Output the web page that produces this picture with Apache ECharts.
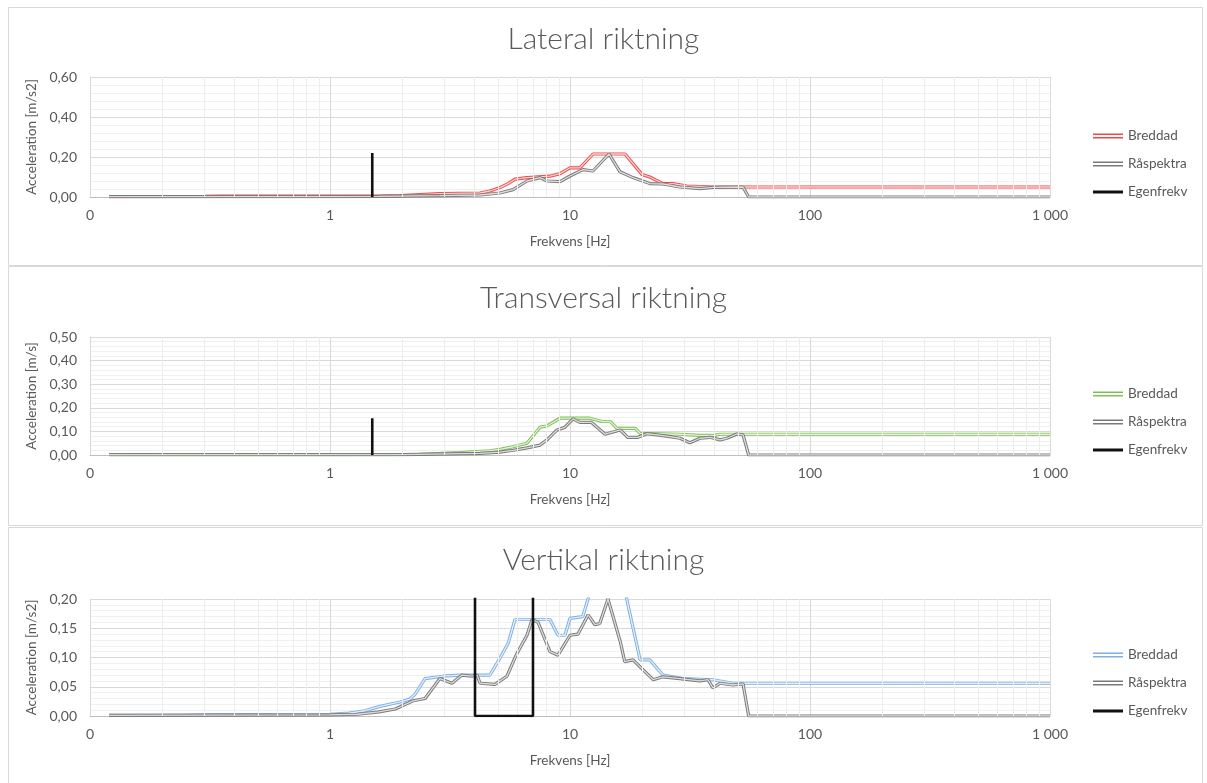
<!DOCTYPE html>
<html><head><meta charset="utf-8">
<script src="https://cdn.jsdelivr.net/npm/echarts@6/dist/echarts.min.js"></script>
<style>html,body{margin:0;padding:0;background:#fff}#c{width:1207px;height:783px}</style>
</head><body><div id="c"></div><script>
// ---------- DATA ----------
const xTickLabels = {0.1: '0', 1: '1', 10: '10', 100: '100', 1000: '1 000'};
const seriesNames = ['Breddad', 'Råspektra', 'Egenfrekv'];

// Lateral riktning
const latBreddadF = [0.12, 0.3, 0.35, 1.0, 1.6, 1.96, 2.87, 4.22, 4.64, 5.11, 5.52, 5.9, 6.62, 8.25, 9.09, 10.0, 11.0, 12.47, 16.94, 19.95, 21.5, 24.4, 26.8, 30.7, 39.4, 55, 1000];
const latBreddadA = [0.002, 0.003, 0.004, 0.004, 0.005, 0.007, 0.017, 0.02, 0.03, 0.047, 0.067, 0.089, 0.097, 0.104, 0.117, 0.146, 0.146, 0.215, 0.215, 0.113, 0.10, 0.067, 0.067, 0.055, 0.05, 0.05, 0.05];
const latRaF = [0.12, 1.0, 1.6, 2.87, 4.22, 5.11, 5.79, 6.62, 7.5, 8.02, 9.09, 10.0, 11.33, 12.47, 14.54, 16.16, 18.3, 21.5, 24.4, 28.7, 34.8, 39.4, 52.6, 53.5, 55.5, 1000];
const latRaA = [0.002, 0.002, 0.003, 0.007, 0.01, 0.02, 0.037, 0.08, 0.097, 0.08, 0.077, 0.105, 0.137, 0.13, 0.215, 0.126, 0.097, 0.067, 0.065, 0.05, 0.042, 0.048, 0.05, 0.05, 0, 0];
const latEgenF = [1.5, 1.5];
const latEgenA = [0, 0.22];

// Transversal riktning
const traBreddadF = [0.12, 1.0, 2.37, 3.48, 4.64, 5.11, 5.79, 6.62, 7.5, 8.02, 9.09, 12.1, 13.6, 14.7, 15.7, 18.7, 19.6, 28.7, 34.8, 40.0, 42.2, 1000];
const traBreddadA = [0.002, 0.002, 0.003, 0.01, 0.018, 0.024, 0.035, 0.05, 0.118, 0.123, 0.156, 0.156, 0.142, 0.142, 0.113, 0.113, 0.092, 0.088, 0.083, 0.083, 0.088, 0.088];
const traRaF = [0.12, 2.0, 4.22, 5.11, 5.79, 6.62, 7.5, 8.02, 8.83, 9.5, 10.3, 11.0, 12.3, 14.0, 16.2, 17.4, 19.2, 20.9, 23.0, 26.1, 28.7, 31.6, 34.8, 38.3, 42.2, 45.1, 49.6, 52.6, 53.5, 55.5, 1000];
const traRaA = [0.001, 0.002, 0.007, 0.012, 0.02, 0.03, 0.042, 0.064, 0.106, 0.117, 0.153, 0.138, 0.138, 0.088, 0.106, 0.075, 0.075, 0.09, 0.085, 0.078, 0.071, 0.052, 0.071, 0.075, 0.064, 0.071, 0.089, 0.085, 0.085, 0, 0];
const traEgenF = [1.5, 1.5];
const traEgenA = [0, 0.156];

// Vertikal riktning
const verBreddadF = [0.12, 0.25, 0.3, 1.0, 1.2, 1.4, 1.6, 1.96, 2.15, 2.26, 2.49, 2.96, 3.48, 4.64, 5.11, 5.52, 5.9, 8.25, 8.91, 9.53, 10.0, 11.3, 12.3, 16.8, 19.6, 21.5, 24.4, 29.6, 39.4, 47.7, 1000];
const verBreddadA = [0.001, 0.001, 0.002, 0.003, 0.005, 0.009, 0.016, 0.024, 0.029, 0.037, 0.064, 0.068, 0.07, 0.07, 0.099, 0.124, 0.165, 0.165, 0.138, 0.138, 0.167, 0.17, 0.22, 0.22, 0.096, 0.096, 0.07, 0.064, 0.062, 0.056, 0.056];
const verRaF = [0.12, 1.0, 1.3, 1.6, 1.87, 2.22, 2.49, 2.87, 3.22, 3.55, 3.91, 4.1, 4.22, 4.87, 5.11, 5.46, 6.01, 6.62, 6.95, 7.36, 8.25, 8.91, 10.0, 10.8, 11.9, 12.7, 13.3, 14.4, 16.2, 16.9, 18.3, 22.2, 24.4, 28.7, 34.8, 37.6, 39.4, 42.2, 47.7, 52.6, 53.5, 55.5, 1000];
const verRaA = [0.001, 0.002, 0.003, 0.007, 0.012, 0.026, 0.03, 0.064, 0.056, 0.07, 0.068, 0.07, 0.056, 0.054, 0.06, 0.068, 0.107, 0.138, 0.165, 0.16, 0.11, 0.104, 0.138, 0.14, 0.173, 0.156, 0.158, 0.20, 0.127, 0.093, 0.096, 0.062, 0.067, 0.064, 0.060, 0.062, 0.048, 0.056, 0.053, 0.055, 0.055, 0, 0];
const verEgenF = [4.02, 4.02, 7.01, 7.01];
const verEgenA = [0.3, 0, 0, 0.3];

// ---------- CHART ----------
const FONT = 'Lato, "Open Sans", "Noto Sans", sans-serif';
const TXT = '#595959';
const zip = (f, a) => f.map((v, i) => [v, a[i]]);

const panels = [
  {title: 'Lateral riktning', yName: 'Acceleration [m/s2]', max: 0.6, interval: 0.2, minorSplit: 5,
   gridTop: 77, gridH: 120, titleTop: 24, legendTop: 128, box: [7, 258],
   col: '#f04848', inner: 'rgba(255,225,225,0.9)',
   b: zip(latBreddadF, latBreddadA), r: zip(latRaF, latRaA), e: zip(latEgenF, latEgenA)},
  {title: 'Transversal riktning', yName: 'Acceleration [m/s]', max: 0.5, interval: 0.1, minorSplit: 5,
   gridTop: 337, gridH: 118, titleTop: 283, legendTop: 386, box: [266, 259],
   col: '#7fbd5a', inner: 'rgba(235,250,225,0.9)',
   b: zip(traBreddadF, traBreddadA), r: zip(traRaF, traRaA), e: zip(traEgenF, traEgenA)},
  {title: 'Vertikal riktning', yName: 'Acceleration [m/s2]', max: 0.2, interval: 0.05, minorSplit: 5,
   gridTop: 599, gridH: 117, titleTop: 545, legendTop: 647, box: [527, 262],
   col: '#7fb0e2', inner: 'rgba(235,244,255,0.9)',
   b: zip(verBreddadF, verBreddadA), r: zip(verRaF, verRaA), e: zip(verEgenF, verEgenA)}
];

const minorX = [];
[0.1, 1, 10, 100].forEach(d => { for (let k = 2; k <= 9; k++) minorX.push(+(d * k).toPrecision(3)); });

const grid = [], xAxis = [], yAxis = [], series = [], title = [], legend = [], graphic = [];
const GRAY = '#7a7a7a';
const dblIcon = 'path://M0,0H30V1.6H0Z M0,3.4H30V5H0Z';
const solidIcon = 'path://M0,0H0.01V5H0Z M0,1H30V4H0Z';

panels.forEach((p, i) => {
  graphic.push({type: 'rect', silent: true, z: -10,
    shape: {x: 8.5, y: p.box[0] + 0.5, width: 1194, height: p.box[1]},
    style: {fill: '#fff', stroke: '#d9d9d9', lineWidth: 1}});
  grid.push({left: 90, width: 960, top: p.gridTop, height: p.gridH, containLabel: false});
  title.push({text: p.title, left: 'center', top: p.titleTop, padding: 0,
    textStyle: {fontFamily: FONT, fontSize: 30, fontWeight: 300, color: TXT}});
  xAxis.push({type: 'log', logBase: 10, min: 0.1, max: 1000, gridIndex: i,
    name: 'Frekvens [Hz]', nameLocation: 'middle', nameGap: 38,
    nameTextStyle: {fontFamily: FONT, fontSize: 13.5, color: TXT},
    axisLine: {show: true, lineStyle: {color: '#bfbfbf'}},
    axisTick: {show: false},
    axisLabel: {fontFamily: FONT, fontSize: 14, color: TXT, margin: 11,
      formatter: v => xTickLabels[+v.toPrecision(3)] ?? ''},
    splitLine: {show: true, lineStyle: {color: '#d9d9d9'}}});
  yAxis.push({type: 'value', min: 0, max: p.max, interval: p.interval, gridIndex: i,
    name: p.yName, nameLocation: 'middle', nameGap: 51, nameRotate: 90,
    nameTextStyle: {fontFamily: FONT, fontSize: 13.5, color: TXT},
    axisLine: {show: true, lineStyle: {color: '#d9d9d9'}},
    axisTick: {show: false},
    axisLabel: {fontFamily: FONT, fontSize: 14, color: TXT, margin: 13,
      formatter: v => v.toFixed(2).replace('.', ',')},
    splitLine: {show: true, lineStyle: {color: '#d9d9d9'}},
    minorTick: {show: false, splitNumber: p.minorSplit},
    minorSplitLine: {show: true, lineStyle: {color: '#f0f0f0'}}});
  // minor vertical gridlines (2..9 of every decade)
  series.push({type: 'line', name: '_grid' + i, xAxisIndex: i, yAxisIndex: i, data: [], z: 1,
    silent: true, animation: false,
    markLine: {silent: true, symbol: ['none', 'none'], label: {show: false}, animation: false,
      lineStyle: {color: '#ededed', width: 1, type: 'solid'},
      emphasis: {disabled: true},
      data: minorX.map(v => ({xAxis: v}))}});
  const dbl = (name, data, col, inner, z) => {
    series.push({type: 'line', name: name, xAxisIndex: i, yAxisIndex: i, data: data,
      symbol: 'none', animation: false, z: z, clip: true,
      itemStyle: {color: col}, lineStyle: {color: col, width: 3.2}});
    series.push({type: 'line', name: name + '_inner', xAxisIndex: i, yAxisIndex: i, data: data,
      symbol: 'none', animation: false, z: z, clip: true, silent: true,
      itemStyle: {color: inner}, lineStyle: {color: inner, width: 1.3}});
  };
  dbl('Breddad', p.b, p.col, p.inner, 3);
  dbl('Råspektra', p.r, GRAY, 'rgba(225,225,225,0.95)', 4);
  series.push({type: 'line', name: 'Egenfrekv', xAxisIndex: i, yAxisIndex: i, data: p.e,
    symbol: 'none', animation: false, z: 6, clip: true,
    itemStyle: {color: '#111'}, lineStyle: {color: '#111', width: 2.6}});
  legend.push({orient: 'vertical', left: 1093, top: p.legendTop, itemWidth: 30, itemHeight: 5,
    itemGap: 12, selectedMode: false, padding: 0,
    textStyle: {fontFamily: FONT, fontSize: 13.5, color: TXT, lineHeight: 16, padding: [0, 0, 0, 0]},
    data: [
      {name: 'Breddad', icon: dblIcon, itemStyle: {color: p.col}},
      {name: 'Råspektra', icon: dblIcon, itemStyle: {color: GRAY}},
      {name: 'Egenfrekv', icon: solidIcon, itemStyle: {color: '#111'}}
    ]});
});

const chart = echarts.init(document.getElementById('c'), null, {renderer: 'canvas'});
chart.setOption({animation: false, backgroundColor: '#fff', graphic: graphic,
  title, legend, grid, xAxis, yAxis, series});
</script></body></html>
